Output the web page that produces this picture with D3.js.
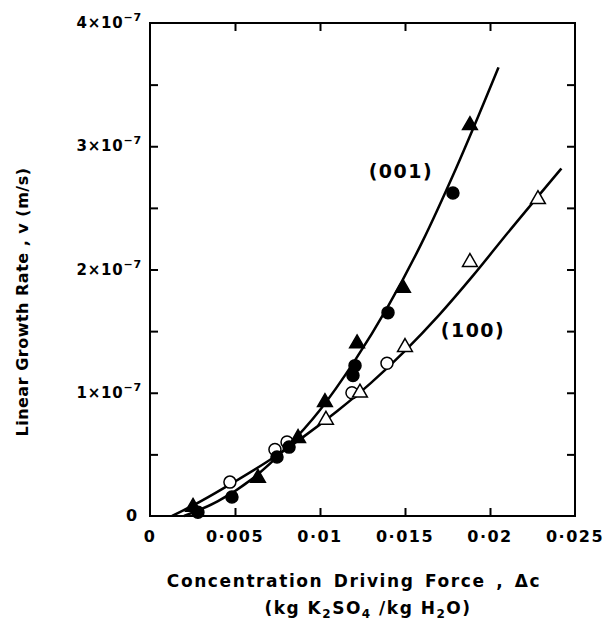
<!DOCTYPE html>
<html>
<head>
<meta charset="utf-8">
<script src="https://cdn.jsdelivr.net/npm/d3@7"></script>
<style>
body { margin: 0; background: #fff; }
text { font-family: "DejaVu Sans", sans-serif; font-weight: bold; fill: #000; }
</style>
</head>
<body>
<div id="chart"></div>
<script>
// axis ticks
var xTicks = [0, 0.005, 0.01, 0.015, 0.02, 0.025];
var xTickLabels = ["0", "0·005", "0·01", "0·015", "0·02", "0·025"];
var yTicks = [0, 1e-7, 2e-7, 3e-7, 4e-7];
var yTickMantissa = ["0", "1", "2", "3", "4"];
var yMinorTicks = [0.5e-7, 1.5e-7, 2.5e-7, 3.5e-7];

// (001) face - filled symbols
var face001Triangles = [[0.00253, 0.073e-7], [0.00635, 0.308e-7], [0.00871, 0.632e-7], [0.01029, 0.923e-7],
	[0.01218, 1.40e-7], [0.01488, 1.85e-7], [0.01882, 3.17e-7]];
var face001Circles = [[0.00282, 0.03e-7], [0.00482, 0.154e-7], [0.00747, 0.478e-7], [0.00818, 0.559e-7],
	[0.01194, 1.14e-7], [0.01206, 1.22e-7], [0.0140, 1.65e-7], [0.01782, 2.62e-7]];
// (100) face - open symbols
var face100Circles = [[0.0047, 0.275e-7], [0.00735, 0.54e-7], [0.00806, 0.60e-7], [0.01188, 1.00e-7], [0.01394, 1.24e-7]];
var face100Triangles = [[0.01035, 0.78e-7], [0.01235, 1.00e-7], [0.0150, 1.37e-7], [0.01882, 2.06e-7], [0.02282, 2.57e-7]];

// fitted curves as drawn
var curve001 = [[0.0020, 0], [0.004, 0.12e-7], [0.006, 0.30e-7], [0.008, 0.55e-7], [0.010, 0.86e-7],
	[0.012, 1.25e-7], [0.014, 1.70e-7], [0.016, 2.22e-7], [0.018, 2.82e-7], [0.0205, 3.64e-7]];
var curve100 = [[0.0013, 0], [0.003, 0.12e-7], [0.005, 0.28e-7], [0.007, 0.45e-7], [0.009, 0.64e-7],
	[0.011, 0.85e-7], [0.013, 1.08e-7], [0.015, 1.34e-7], [0.017, 1.63e-7], [0.019, 1.95e-7],
	[0.021, 2.29e-7], [0.0242, 2.82e-7]];

var margin = { top: 23, left: 150, right: 29, bottom: 108 };
var size = { width: 604, height: 624 };
size.inner_width = size.width - margin.left - margin.right;
size.inner_height = size.height - margin.top - margin.bottom;

var xScale = d3.scaleLinear().domain([0, 0.025]).range([0, size.inner_width]);
var yScale = d3.scaleLinear().domain([0, 4e-7]).range([size.inner_height, 0]);

var svg = d3.select("#chart").append("svg")
	.attr("width", size.width)
	.attr("height", size.height);

var g = svg.append("g")
	.attr("transform", "translate(" + margin.left + "," + margin.top + ")");

// frame
g.append("rect")
	.attr("width", size.inner_width)
	.attr("height", size.inner_height)
	.attr("fill", "none")
	.attr("stroke", "#000")
	.attr("stroke-width", 2);

// inward tick marks on all four sides
function styleAxis(sel) {
	sel.select(".domain").remove();
	sel.selectAll("line").attr("stroke", "#000").attr("stroke-width", 2);
	sel.selectAll("text").remove();
}
g.append("g").attr("transform", "translate(0," + size.inner_height + ")")
	.call(d3.axisBottom(xScale).tickValues(xTicks.slice(1, 5)).tickSize(-8)).call(styleAxis);
g.append("g")
	.call(d3.axisTop(xScale).tickValues(xTicks.slice(1, 5)).tickSize(-8)).call(styleAxis);
g.append("g")
	.call(d3.axisLeft(yScale).tickValues(yTicks.slice(1, 4).concat(yMinorTicks)).tickSize(-8)).call(styleAxis);
g.append("g").attr("transform", "translate(" + size.inner_width + ",0)")
	.call(d3.axisRight(yScale).tickValues(yTicks.slice(1, 4).concat(yMinorTicks)).tickSize(-8)).call(styleAxis);

// x tick labels
g.selectAll(".xlab").data(xTicks).enter().append("text")
	.attr("class", "xlab")
	.attr("x", function(d) { return xScale(d); })
	.attr("y", size.inner_height + 26)
	.attr("text-anchor", "middle")
	.style("font-size", "16px")
	.style("letter-spacing", "1.5px")
	.text(function(d, i) { return xTickLabels[i]; });

// y tick labels
yTicks.forEach(function(d, i) {
	var t = g.append("text")
		.attr("x", -8)
		.attr("y", yScale(d) + 5)
		.attr("text-anchor", "end")
		.style("font-size", "15px")
		.style("letter-spacing", "0.8px");
	if (i == 0) {
		t.attr("x", -12).style("font-size", "16px").text("0");
		return;
	}
	t.append("tspan").text(yTickMantissa[i] + "×10");
	t.append("tspan").attr("dy", -7).style("font-size", "11px").text("−7");
});

var line = d3.line()
	.x(function(d) { return xScale(d[0]); })
	.y(function(d) { return yScale(d[1]); })
	.curve(d3.curveMonotoneX);

[curve001, curve100].forEach(function(c) {
	g.append("path")
		.attr("d", line(c))
		.attr("fill", "none")
		.attr("stroke", "#000")
		.attr("stroke-width", 2.5);
});

var tri = d3.symbol().type(d3.symbolTriangle).size(95);

function drawTriangles(data, filled) {
	g.selectAll(null).data(data).enter().append("path")
		.attr("d", tri)
		.attr("transform", function(d) { return "translate(" + xScale(d[0]) + "," + yScale(d[1]) + ")"; })
		.attr("fill", filled ? "#000" : "#fff")
		.attr("stroke", "#000")
		.attr("stroke-width", 1.5);
}
function drawCircles(data, filled) {
	g.selectAll(null).data(data).enter().append("circle")
		.attr("cx", function(d) { return xScale(d[0]); })
		.attr("cy", function(d) { return yScale(d[1]); })
		.attr("r", 6)
		.attr("fill", filled ? "#000" : "#fff")
		.attr("stroke", "#000")
		.attr("stroke-width", 1.5);
}
drawCircles(face100Circles, false);
drawTriangles(face100Triangles, false);
drawCircles(face001Circles, true);
drawTriangles(face001Triangles, true);

// face labels
g.append("text")
	.attr("x", xScale(0.01476)).attr("y", yScale(2.74e-7))
	.attr("text-anchor", "middle")
	.style("font-size", "19px")
	.style("letter-spacing", "1.5px")
	.text("(001)");
g.append("text")
	.attr("x", xScale(0.019)).attr("y", yScale(1.45e-7))
	.attr("text-anchor", "middle")
	.style("font-size", "19px")
	.style("letter-spacing", "1.5px")
	.text("(100)");

// axis titles
svg.append("text")
	.attr("transform", "translate(28," + 302 + ") rotate(-90)")
	.attr("text-anchor", "middle")
	.style("font-size", "16px")
	.style("letter-spacing", "0.5px")
	.text("Linear Growth Rate , v (m/s)");

svg.append("text")
	.attr("x", 354).attr("y", 587)
	.attr("text-anchor", "middle")
	.style("font-size", "17px")
	.style("letter-spacing", "1.6px")
	.style("word-spacing", "3px")
	.text("Concentration Driving Force , Δc");

var sub = svg.append("text")
	.attr("x", 368).attr("y", 614)
	.attr("text-anchor", "middle")
	.style("font-size", "17px")
	.style("letter-spacing", "1.5px");
sub.append("tspan").text("(kg K");
sub.append("tspan").attr("dy", 4).style("font-size", "12px").text("2");
sub.append("tspan").attr("dy", -4).text("SO");
sub.append("tspan").attr("dy", 4).style("font-size", "12px").text("4");
sub.append("tspan").attr("dy", -4).text(" /kg H");
sub.append("tspan").attr("dy", 4).style("font-size", "12px").text("2");
sub.append("tspan").attr("dy", -4).text("O)");
</script>
</body>
</html>
